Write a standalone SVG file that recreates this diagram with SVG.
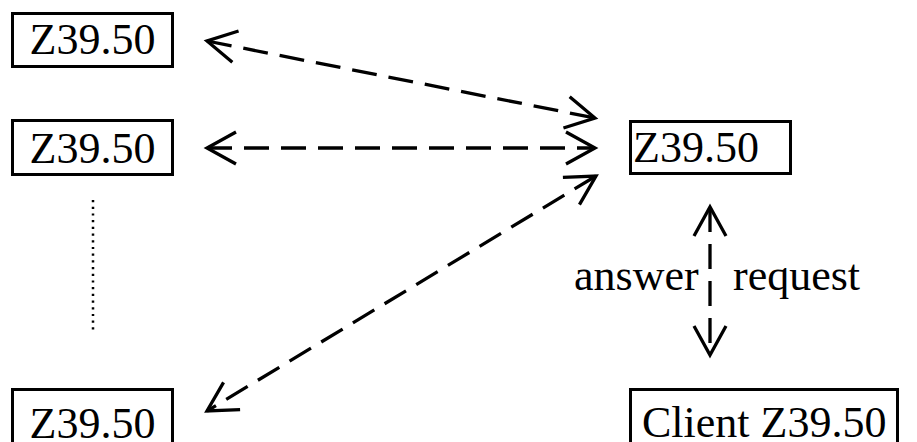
<svg xmlns="http://www.w3.org/2000/svg" width="917" height="442" viewBox="0 0 917 442">
<style>
.box{fill:#fff;stroke:#000;stroke-width:3}
.lbl{font-family:'Liberation Serif','DejaVu Serif',serif;font-size:44px;fill:#000}
.con{fill:none;stroke:#000;stroke-width:3.3;stroke-dasharray:25 12}
.dot{fill:none;stroke:#000;stroke-width:2.5;stroke-dasharray:2.2 4.5}
</style>
<defs>
<marker id="ah" markerUnits="userSpaceOnUse" markerWidth="40" markerHeight="40" viewBox="-32 -20 36 40" refX="0" refY="0" orient="auto-start-reverse" overflow="visible">
<path d="M -29 -16 L 0 0 L -29 16" fill="none" stroke="#000" stroke-width="3.3" stroke-linejoin="miter"/>
</marker>
</defs>
<rect width="917" height="442" fill="#fff"/>
<g id="z1"><rect class="box" x="12.5" y="13.5" width="160" height="53"/><text class="lbl" x="92.5" y="54" text-anchor="middle">Z39.50</text></g>
<g id="z2"><rect class="box" x="12.5" y="120.5" width="160" height="54"/><text class="lbl" x="92.5" y="163" text-anchor="middle">Z39.50</text></g>
<g id="z3"><rect class="box" x="12.5" y="389.5" width="160" height="60"/><text class="lbl" x="92.5" y="438" text-anchor="middle">Z39.50</text></g>
<g id="zc"><rect class="box" x="630.5" y="121.5" width="160" height="52"/><text class="lbl" x="633" y="162">Z39.50</text></g>
<g id="client"><rect class="box" x="630.5" y="389.5" width="267" height="60"/><text class="lbl" x="642" y="437">Client Z39.50</text></g>
<g id="connectors">
<line class="con" x1="207" y1="41" x2="595" y2="118" marker-start="url(#ah)" marker-end="url(#ah)"/>
<line class="con" x1="207" y1="148" x2="595" y2="148" marker-start="url(#ah)" marker-end="url(#ah)"/>
<line class="con" x1="596" y1="176" x2="207" y2="411" marker-start="url(#ah)" marker-end="url(#ah)"/>
<line class="con" x1="710" y1="207" x2="710" y2="355" marker-start="url(#ah)" marker-end="url(#ah)"/>
<line class="dot" x1="93" y1="200" x2="93" y2="331"/>
<text class="lbl" x="574" y="290">answer</text>
<text class="lbl" x="733" y="290">request</text>
</g>
</svg>
